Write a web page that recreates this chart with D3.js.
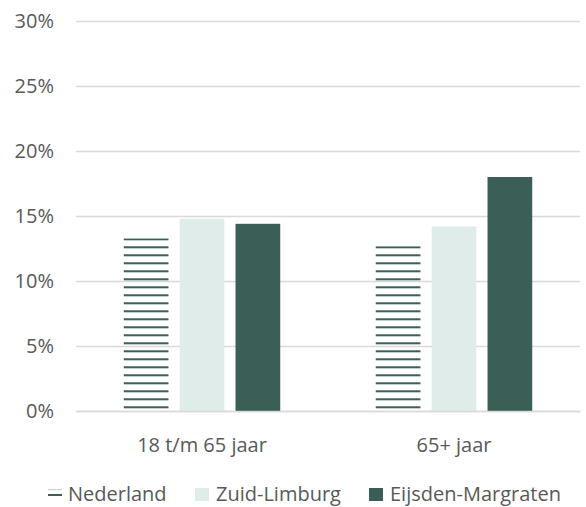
<!DOCTYPE html>
<html>
<head>
<meta charset="utf-8">
<script src="https://cdn.jsdelivr.net/npm/d3@7"></script>
<style>
  html, body { margin: 0; padding: 0; background: #fff; }
  svg { display: block; }
  text { font-family: "Open Sans", sans-serif; fill: #595959; }
</style>
</head>
<body>
<svg id="chart" width="586" height="507"></svg>
<script>
const categories = ["18 t/m 65 jaar", "65+ jaar"];
const seriesNames = ["Nederland", "Zuid-Limburg", "Eijsden-Margraten"];
const nederland = [13.2, 12.6];
const zuidLimburg = [14.8, 14.2];
const eijsdenMargraten = [14.4, 18.0];
const yTicks = [0, 5, 10, 15, 20, 25, 30];

const seriesValues = [nederland, zuidLimburg, eijsdenMargraten];
const colors = ["url(#hatch)", "#e0ecea", "#3b5e56"];
const FS = 20;

const svg = d3.select("#chart");
const margin = { left: 76, right: 6, top: 21, bottom: 96 };
const W = 586, H = 507;

const defs = svg.append("defs");
const pat = defs.append("pattern")
  .attr("id", "hatch").attr("patternUnits", "userSpaceOnUse")
  .attr("x", 0).attr("y", 6.3)
  .attr("width", 8).attr("height", 8);
pat.append("rect").attr("x", 0).attr("y", 0).attr("width", 8).attr("height", 2).attr("fill", "#3b5e56");

const x0 = d3.scaleBand().domain(categories).range([margin.left, W - margin.right]).paddingInner(0).paddingOuter(0);
const x1 = d3.scaleBand().domain(seriesNames).range([0, x0.bandwidth()]).paddingInner(0.2).paddingOuter(0.855);
const y = d3.scaleLinear().domain([0, 30]).range([H - margin.bottom, margin.top]);

// grid + y labels
const yAxis = d3.axisLeft(y).tickValues(yTicks).tickFormat(d => d + "%")
  .tickSize(-(W - margin.left - margin.right)).tickPadding(22);
const gy = svg.append("g").attr("transform", `translate(${margin.left},0)`).call(yAxis);
gy.select(".domain").remove();
gy.selectAll(".tick line").attr("stroke", "#d9d9d9").attr("stroke-width", 1.3);
gy.selectAll(".tick text").attr("font-size", FS).attr("font-family", "'Open Sans', sans-serif").attr("fill", "#595959");

// bars
const groups = svg.append("g").selectAll("g").data(categories).join("g")
  .attr("transform", d => `translate(${x0(d)},0)`);
groups.selectAll("rect").data((c, i) => seriesNames.map((s, j) => ({ s, j, v: seriesValues[j][i] })))
  .join("rect")
  .attr("x", d => x1(d.s))
  .attr("width", x1.bandwidth())
  .attr("y", d => y(d.v) - (d.j === 0 ? 1 : 0))
  .attr("height", d => y(0) - y(d.v) + (d.j === 0 ? 1 : 0))
  .attr("fill", d => colors[d.j]);

// x axis labels
const gx = svg.append("g").attr("transform", `translate(0,${y(0)})`)
  .call(d3.axisBottom(x0).tickSize(0).tickPadding(27));
gx.select(".domain").attr("stroke", "#d9d9d9").attr("stroke-width", 1.3);
gx.selectAll(".tick text").attr("font-size", FS).attr("font-family", "'Open Sans', sans-serif").attr("fill", "#595959");

// legend
const legendX = [48, 195, 369];
const lg = svg.append("g").selectAll("g").data(seriesNames).join("g")
  .attr("transform", (d, i) => `translate(${legendX[i]},487)`);
lg.each(function(d, i) {
  const g = d3.select(this);
  if (i === 0) {
    g.append("rect").attr("x", 0).attr("y", 2).attr("width", 14).attr("height", 1.2).attr("fill", "#c9d3d1");
    g.append("rect").attr("x", 0).attr("y", 7).attr("width", 14).attr("height", 2).attr("fill", "#3b5e56");
  } else {
    g.append("rect").attr("x", 0).attr("y", 1).attr("width", 14).attr("height", 13).attr("fill", colors[i]);
  }
  g.append("text").attr("x", i === 0 ? 20 : 21).attr("y", 14).attr("font-size", FS).text(d);
});
</script>
</body>
</html>
